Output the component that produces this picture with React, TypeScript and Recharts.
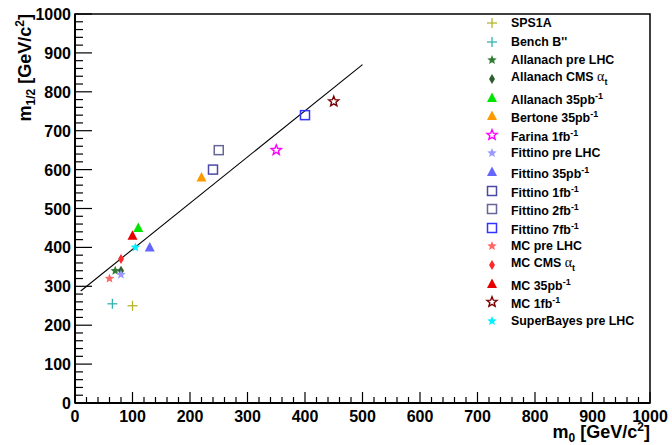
import React from 'react';
import { ScatterChart, Scatter, XAxis, YAxis, ReferenceArea, Legend } from 'recharts';

// benchmark / fit points (m0, m1/2) in GeV/c^2
const seriesNames = [
  'SPS1A', "Bench B''", 'Allanach pre LHC', 'Allanach CMS', 'Allanach 35pb', 'Bertone 35pb',
  'Farina 1fb', 'Fittino pre LHC', 'Fittino 35pb', 'Fittino 1fb', 'Fittino 2fb', 'Fittino 7fb',
  'MC pre LHC', 'MC CMS', 'MC 35pb', 'MC 1fb', 'SuperBayes pre LHC',
];
const m0Values = [100, 65, 70, 80, 110, 220, 350, 80, 130, 240, 250, 400, 60, 80, 100, 450, 105];
const m12Values = [250, 255, 340, 340, 450, 580, 650, 330, 400, 600, 650, 740, 320, 370, 430, 775, 400];

// straight line drawn across the plot
const fitM0 = [10, 500];
const fitM12 = [288, 870];

const xMajorTicks = [0, 100, 200, 300, 400, 500, 600, 700, 800, 900, 1000];
const yMajorTicks = [0, 100, 200, 300, 400, 500, 600, 700, 800, 900, 1000];

type Kind = 'plus' | 'star' | 'diamond' | 'triangle' | 'square' | 'openStar';

const markerKinds: Kind[] = [
  'plus', 'plus', 'star', 'diamond', 'triangle', 'triangle',
  'openStar', 'star', 'triangle', 'square', 'square', 'square',
  'star', 'diamond', 'triangle', 'openStar', 'star',
];
const markerColors = [
  '#b5b52a', '#35b3b3', '#2e7d32', '#2f5f2f', '#00e600', '#ff9900',
  '#ff00ff', '#9999ff', '#6666ff', '#4a4aa6', '#666699', '#3333ff',
  '#ff6666', '#ff2a2a', '#e60000', '#7a0000', '#00f0ff',
];

const font = '"Liberation Sans", Arial, Helvetica, sans-serif';

function minorTicks(major: number[]) {
  const out: number[] = [];
  for (let i = 0; i < major.length - 1; i++) {
    for (let k = 0; k < 5; k++) out.push(major[i] + ((major[i + 1] - major[i]) * k) / 5);
  }
  out.push(major[major.length - 1]);
  return out;
}

function starPoints(cx: number, cy: number, R: number, r: number) {
  const pts: string[] = [];
  for (let i = 0; i < 10; i++) {
    const a = -Math.PI / 2 + (i * Math.PI) / 5;
    const rad = i % 2 === 0 ? R : r;
    pts.push(`${cx + rad * Math.cos(a)},${cy + rad * Math.sin(a)}`);
  }
  return pts.join(' ');
}

function Marker({ kind, color, cx, cy }: { kind: Kind; color: string; cx: number; cy: number }) {
  switch (kind) {
    case 'plus':
      return (
        <g stroke={color} strokeWidth={1.3}>
          <line x1={cx - 5} y1={cy} x2={cx + 5} y2={cy} />
          <line x1={cx} y1={cy - 5} x2={cx} y2={cy + 5} />
        </g>
      );
    case 'star':
      return <polygon points={starPoints(cx, cy, 5, 2.2)} fill={color} />;
    case 'openStar':
      return <polygon points={starPoints(cx, cy, 5.3, 2.3)} fill="none" stroke={color} strokeWidth={1.4} />;
    case 'diamond':
      return <polygon points={`${cx},${cy - 5} ${cx + 3},${cy} ${cx},${cy + 5} ${cx - 3},${cy}`} fill={color} />;
    case 'triangle':
      return <polygon points={`${cx},${cy - 5.5} ${cx + 5},${cy + 4} ${cx - 5},${cy + 4}`} fill={color} />;
    case 'square':
      return <rect x={cx - 4.5} y={cy - 4.5} width={9} height={9} fill="none" stroke={color} strokeWidth={1.5} />;
  }
  return null;
}

const sup = { fontSize: 9 };
const alpha = (
  <span style={{ fontWeight: 400, fontFamily: 'serif', fontSize: 14 }}>
    α<sub style={{ fontSize: 9, fontFamily: font, fontWeight: 700 }}>t</sub>
  </span>
);

const legendLabels: React.ReactNode[] = [
  'SPS1A',
  "Bench B''",
  'Allanach pre LHC',
  <>Allanach CMS {alpha}</>,
  <>Allanach 35pb<sup style={sup}>-1</sup></>,
  <>Bertone 35pb<sup style={sup}>-1</sup></>,
  <>Farina 1fb<sup style={sup}>-1</sup></>,
  'Fittino pre LHC',
  <>Fittino 35pb<sup style={sup}>-1</sup></>,
  <>Fittino 1fb<sup style={sup}>-1</sup></>,
  <>Fittino 2fb<sup style={sup}>-1</sup></>,
  <>Fittino 7fb<sup style={sup}>-1</sup></>,
  'MC pre LHC',
  <>MC CMS {alpha}</>,
  <>MC 35pb<sup style={sup}>-1</sup></>,
  <>MC 1fb<sup style={sup}>-1</sup></>,
  'SuperBayes pre LHC',
];

function LegendBox() {
  return (
    <div style={{ fontFamily: font, fontWeight: 700, fontSize: 12.4, color: '#000' }}>
      {seriesNames.map((n, i) => (
        <div key={n} style={{ display: 'flex', alignItems: 'center', height: 18.6, lineHeight: '12px' }}>
          <svg width={20} height={18} style={{ flex: 'none' }}>
            <Marker kind={markerKinds[i]} color={markerColors[i]} cx={10} cy={9} />
          </svg>
          <span style={{ marginLeft: 9, whiteSpace: 'nowrap' }}>{legendLabels[i]}</span>
        </div>
      ))}
    </div>
  );
}

const XTick = (props: any) => {
  const { x, y, payload } = props;
  const v = payload.value;
  const major = v % 100 === 0;
  return (
    <g>
      <line x1={x} y1={y} x2={x} y2={y - (major ? 11 : 6)} stroke="#000" strokeWidth={1.2} />
      {major && (
        <text x={x} y={y + 19} textAnchor="middle" fontFamily={font} fontWeight={700} fontSize={16} fill="#000">
          {v}
        </text>
      )}
    </g>
  );
};

const YTick = (props: any) => {
  const { x, y, payload } = props;
  const v = payload.value;
  const major = v % 100 === 0;
  return (
    <g>
      <line x1={x} y1={y} x2={x + (major ? 17 : 8)} y2={y} stroke="#000" strokeWidth={1.2} />
      {major && (
        <text x={x - 4} y={y + 6} textAnchor="end" fontFamily={font} fontWeight={700} fontSize={16} fill="#000">
          {v}
        </text>
      )}
    </g>
  );
};

const XTitle = () => (
  <text x={650} y={438} textAnchor="end" fontFamily={font} fontWeight={700} fontSize={18} fill="#000">
    m<tspan dy={4} fontSize={12}>0</tspan>
    <tspan dy={-4}> [GeV/c</tspan>
    <tspan dy={-7} fontSize={12}>2</tspan>
    <tspan dy={7}>]</tspan>
  </text>
);

const YTitle = () => (
  <text transform="translate(31,14) rotate(-90)" textAnchor="end" fontFamily={font} fontWeight={700} fontSize={18} fill="#000">
    m<tspan dy={4} fontSize={12}>1/2</tspan>
    <tspan dy={-4}> [GeV/c</tspan>
    <tspan dy={-7} fontSize={12}>2</tspan>
    <tspan dy={7}>]</tspan>
  </text>
);

export default function App() {
  const points = seriesNames.map((name, i) => ({ name, x: m0Values[i], y: m12Values[i] }));
  const fitLine = fitM0.map((x, i) => ({ x, y: fitM12[i] }));

  return (
    <div style={{ position: 'absolute', left: 0, top: 0, background: '#fff' }}>
      <ScatterChart width={672} height={445} margin={{ top: 14, right: 22, bottom: 0, left: 0 }}>
        <XAxis
          type="number"
          dataKey="x"
          domain={[0, 1000]}
          ticks={minorTicks(xMajorTicks)}
          interval={0}
          tickSize={0}
          tickMargin={0}
          tickLine={false}
          tick={<XTick />}
          height={42}
          axisLine={{ stroke: '#000', strokeWidth: 2 }}
          allowDataOverflow
          label={<XTitle />}
        />
        <YAxis
          type="number"
          dataKey="y"
          domain={[0, 1000]}
          ticks={minorTicks(yMajorTicks)}
          interval={0}
          tickSize={0}
          tickMargin={0}
          tickLine={false}
          tick={<YTick />}
          width={75}
          axisLine={{ stroke: '#000', strokeWidth: 2 }}
          allowDataOverflow
          label={<YTitle />}
        />
        <ReferenceArea x1={0} x2={1000} y1={0} y2={1000} fill="none" stroke="#000" strokeWidth={1.5} />
        <Scatter
          name="fit"
          data={fitLine}
          line={{ stroke: '#000', strokeWidth: 1.1 }}
          shape={() => <g />}
          legendType="none"
          isAnimationActive={false}
        />
        {points.map((p, i) => (
          <Scatter
            key={p.name}
            name={p.name}
            data={[p]}
            shape={(s: any) => <Marker kind={markerKinds[i]} color={markerColors[i]} cx={s.cx} cy={s.cy} />}
            isAnimationActive={false}
          />
        ))}
        <Legend
          layout="horizontal"
          verticalAlign="middle"
          align="center"
          content={() => <LegendBox />}
          wrapperStyle={{ left: 482, top: 14, width: 185, height: 320 }}
        />
      </ScatterChart>
    </div>
  );
}
